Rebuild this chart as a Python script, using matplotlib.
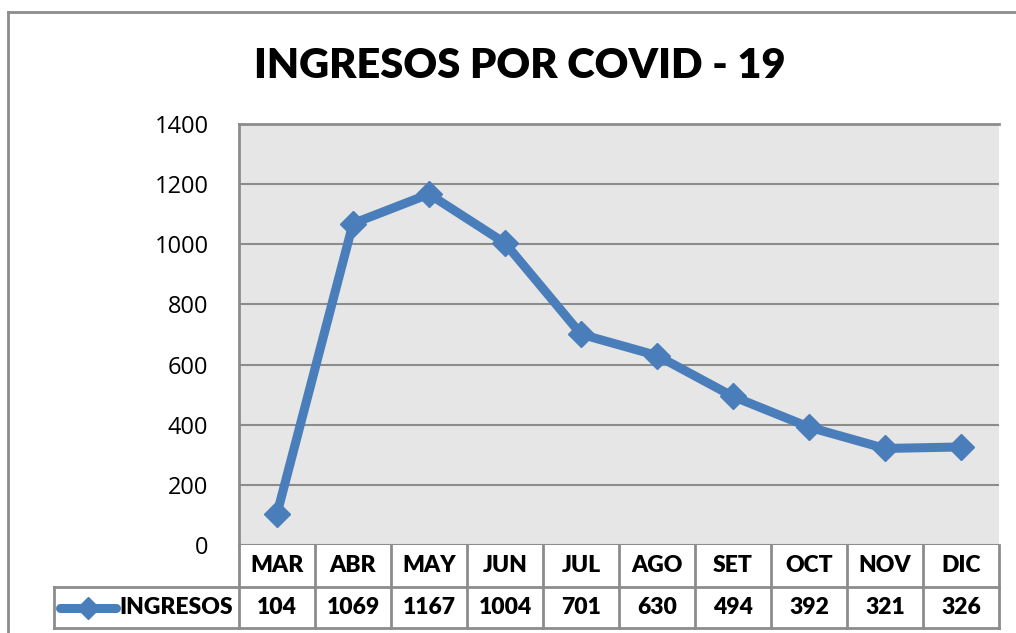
import matplotlib.pyplot as plt
from matplotlib.lines import Line2D
from matplotlib.transforms import blended_transform_factory

meses = ['MAR', 'ABR', 'MAY', 'JUN', 'JUL', 'AGO', 'SET', 'OCT', 'NOV', 'DIC']
ingresos = [104, 1069, 1167, 1004, 701, 630, 494, 392, 321, 326]
serie = 'INGRESOS'
titulo = 'INGRESOS POR COVID - 19'

plt.rcParams['font.family'] = ['Lato', 'DejaVu Sans']

W, H = 1016, 633
fig = plt.figure(figsize=(W / 100, H / 100), dpi=100)

# outer chart frame
fig.add_artist(Line2D([8 / W, 8 / W], [0, 1 - 12 / H], transform=fig.transFigure, color='#8c8c8c', lw=2))
fig.add_artist(Line2D([8 / W, 1], [1 - 12 / H, 1 - 12 / H], transform=fig.transFigure, color='#8c8c8c', lw=2))

left, right, top, bottom = 239, 999, 124, 545
ax = fig.add_axes([left / W, 1 - bottom / H, (right - left) / W, (bottom - top) / H])
ax.set_facecolor('#e6e6e6')

x = list(range(len(meses)))
ax.plot(x, ingresos, color='#4a7ebb', lw=6.5, marker='D', markersize=13,
        solid_joinstyle='miter', zorder=3, clip_on=False)

ax.set_xlim(-0.5, len(meses) - 0.5)
ax.set_ylim(0, 1400)
ax.set_yticks(range(0, 1401, 200))
ax.set_xticks([])
ax.tick_params(axis='y', length=0, pad=22, labelsize=17)
for lab in ax.get_yticklabels():
    lab.set_fontfamily(['Open Sans', 'DejaVu Sans'])
ax.yaxis.grid(True, color='#8c8c8c', lw=1.5)
ax.set_axisbelow(True)
for s in ['right', 'bottom']:
    ax.spines[s].set_visible(False)
ax.spines['top'].set_color('#8c8c8c')
ax.spines['top'].set_linewidth(2)
ax.spines['left'].set_color('#8c8c8c')
ax.spines['left'].set_linewidth(2)

fig.text(0.512, 1 - 66 / H, titulo, ha='center', va='center', fontsize=30, fontweight='heavy')

# data table under the plot
ah = bottom - top
y0 = 0
y1 = -42 / ah
y2 = -83 / ah
bt = blended_transform_factory(ax.transData, ax.transAxes)
at = ax.transAxes
tc = '#8c8c8c'
kw = dict(transform=at, color=tc, lw=2, clip_on=False)
ax.add_line(Line2D([0, 1], [y1, y1], **kw))
ax.add_line(Line2D([0, 1], [y2, y2], **kw))
ax.add_line(Line2D([1, 1], [y0, y2], **kw))
ax.add_line(Line2D([0, 0], [y0, y2], **kw))
for i in range(1, len(meses)):
    ax.add_line(Line2D([i - 0.5, i - 0.5], [y0, y2], transform=bt, color=tc, lw=2, clip_on=False))
for i, (m, v) in enumerate(zip(meses, ingresos)):
    ax.text(i, (y0 + y1) / 2, m, transform=bt, ha='center', va='center', fontsize=16.5, fontweight='heavy')
    ax.text(i, (y1 + y2) / 2, str(v), transform=bt, ha='center', va='center', fontsize=16.5, fontweight='heavy')

# legend cell
lx0 = (54 - left) / (right - left)
ax.add_line(Line2D([lx0, 0], [y1, y1], **kw))
ax.add_line(Line2D([lx0, 0], [y2, y2], **kw))
ax.add_line(Line2D([lx0, lx0], [y1, y2], **kw))
ym = (y1 + y2) / 2
ax.add_line(Line2D([(60 - left) / (right - left), (116 - left) / (right - left)], [ym, ym],
                   transform=at, color='#4a7ebb', lw=6.5, solid_capstyle='round', clip_on=False))
ax.add_line(Line2D([(88 - left) / (right - left)], [ym], transform=at, marker='D', markersize=11,
                   color='#4a7ebb', clip_on=False))
ax.text((119 - left) / (right - left), ym, serie, transform=at, ha='left', va='center',
        fontsize=16.5, fontweight='heavy')

fig.savefig('out.png', dpi=100)
